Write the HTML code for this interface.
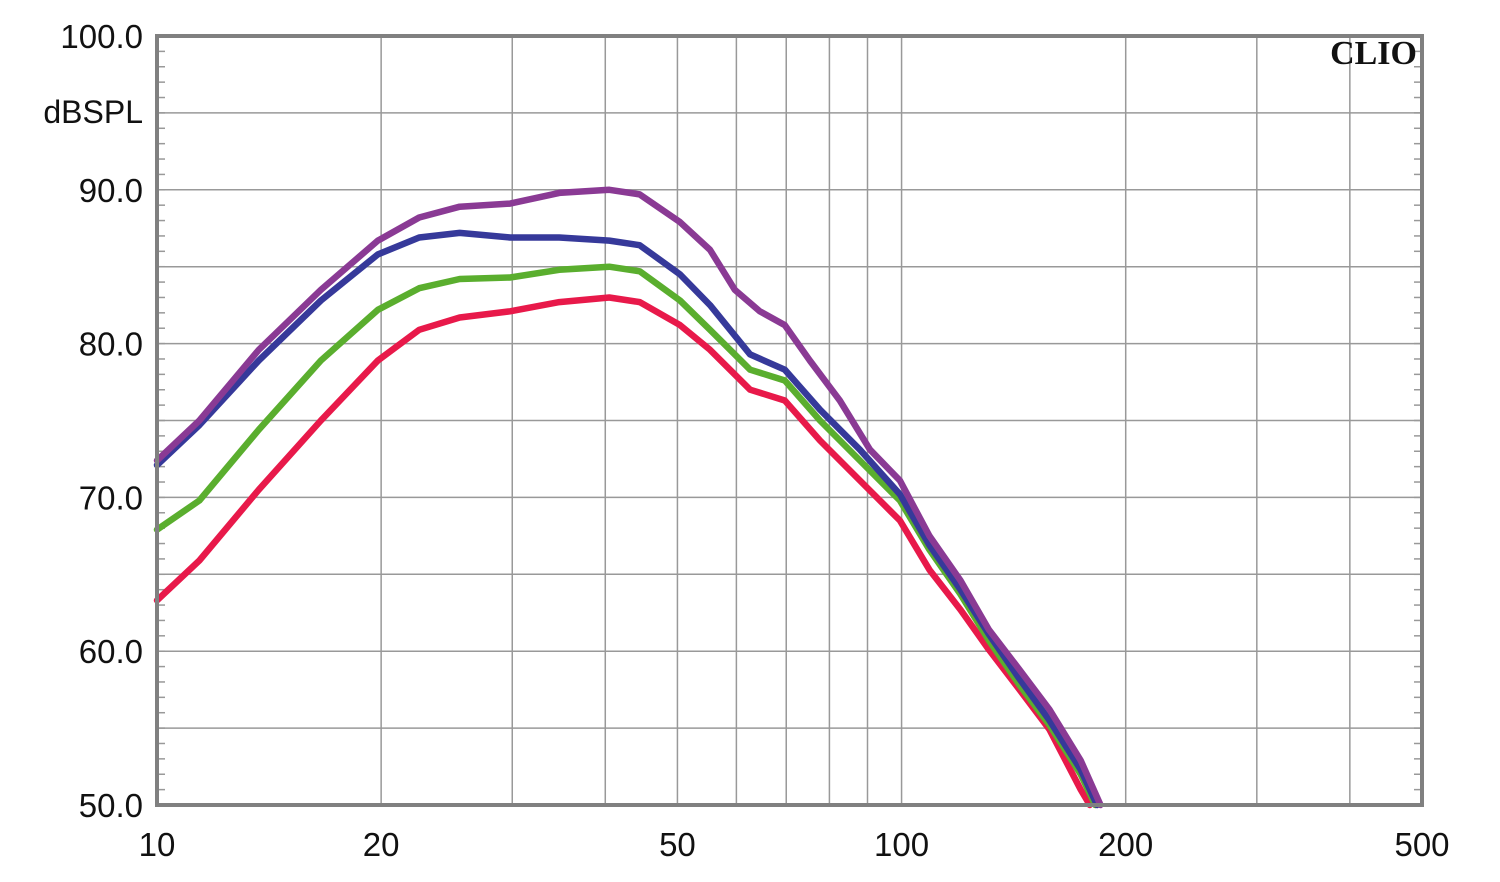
<!DOCTYPE html>
<html><head><meta charset="utf-8"><style>
body{margin:0;background:#fff;width:1500px;height:877px;overflow:hidden}
svg text{font-family:"Liberation Sans",sans-serif;fill:#111}
</style></head><body>
<svg id="chart" width="1500" height="877" viewBox="0 0 1500 877">
<g id="grid"></g>
<g id="ticks"></g>
<g id="series"></g>
<rect x="157" y="36" width="1265" height="769" fill="none" stroke="#808080" stroke-width="4"/>
<text x="1417" y="64" text-anchor="end" style="font-family:'Liberation Serif',serif;font-weight:bold;font-size:34px">CLIO</text>
<text x="143" y="123" text-anchor="end" font-size="32">dBSPL</text>
</svg>
<script>
const xTicks=[10,20,50,100,200,500];
const xGrid=[10,20,30,40,50,60,70,80,90,100,200,300,400,500];
const yTicks=[50,60,70,80,90,100];
const freqs=[10,11.4,13.7,16.6,19.8,22.5,25.5,29.8,34.7,40.5,44.5,50.4,55.3,62.6,69.7,77.7,87.9,99.5,109,120,131,144,158,174];
const purpleF=[10,11.4,13.7,16.6,19.8,22.5,25.5,29.8,34.7,40.5,44.5,50.4,55.3,59.7,64.5,69.7,75.3,82.6,90.7,99.5,109,120,131,144,158,174,185];
const purpleDb=[72.4,75.0,79.6,83.5,86.7,88.2,88.9,89.1,89.8,90.0,89.7,87.9,86.1,83.5,82.1,81.2,78.9,76.3,73.1,71.1,67.5,64.6,61.4,58.8,56.2,52.9,50.0];
const blueDb=[72.1,74.7,78.9,82.8,85.8,86.9,87.2,86.9,86.9,86.7,86.4,84.5,82.5,79.3,78.3,75.7,73.1,70.2,66.9,64.0,61.1,58.2,55.5,52.3];
const greenDb=[67.9,69.8,74.4,78.9,82.2,83.6,84.2,84.3,84.8,85.0,84.7,82.8,80.9,78.3,77.6,75.0,72.4,69.8,66.6,63.7,60.7,57.8,55.2,52.0];
const redDb=[63.3,65.9,70.5,75.0,78.9,80.9,81.7,82.1,82.7,83.0,82.7,81.2,79.6,77.0,76.3,73.7,71.1,68.5,65.3,62.7,60.1,57.5,54.9,51.0];
const endF={blue:183,green:182,red:179};
const X0=157,X1=1422,Y0=805,Y1=36;
const xs=f=>X0+(Math.log10(f)-1)/Math.log10(50)*(X1-X0);
const ys=d=>Y0-(d-50)/50*(Y0-Y1);
const NS="http://www.w3.org/2000/svg";
function mk(t,a,p){const e=document.createElementNS(NS,t);for(const k in a)e.setAttribute(k,a[k]);p.appendChild(e);return e;}
const grid=document.getElementById('grid'),ticks=document.getElementById('ticks'),ser=document.getElementById('series'),svg=document.getElementById('chart');
xGrid.forEach(f=>{const l=mk('line',{x1:xs(f),x2:xs(f),y1:Y1,y2:Y0,stroke:'#999','stroke-width':1.5},grid);

});
for(let d=55;d<100;d+=5){const l=mk('line',{x1:X0,x2:X1,y1:ys(d),y2:ys(d),stroke:'#999','stroke-width':1.5},grid);

}
for(let d=51;d<100;d++){const a=mk('line',{x1:X0,x2:X0+8,y1:ys(d),y2:ys(d),stroke:'#999','stroke-width':1.5},ticks);


const b=mk('line',{x1:X1-8,x2:X1,y1:ys(d),y2:ys(d),stroke:'#999','stroke-width':1.5},ticks);

}
xTicks.forEach(f=>{const t=mk('text',{x:xs(f),y:856,'text-anchor':'middle','font-size':33},svg);t.textContent=f;

});
yTicks.forEach(d=>{const t=mk('text',{x:143,y:ys(d)+12,'text-anchor':'end','font-size':33},svg);t.textContent=d.toFixed(1);

});
function line(F,D,c,n){const p=F.map((f,i)=>(i?'L':'M')+xs(f).toFixed(1)+','+ys(D[i]).toFixed(1)).join('');
const e=mk('path',{d:p,fill:'none',stroke:c,'stroke-width':6.5,'stroke-linejoin':'round','stroke-linecap':'round'},ser);

}
line(freqs.concat([endF.red]),redDb.concat([50]),'#e8194a','red-curve');
line(freqs.concat([endF.green]),greenDb.concat([50]),'#5aae2e','green-curve');
line(freqs.concat([endF.blue]),blueDb.concat([50]),'#36399a','blue-curve');
line(purpleF,purpleDb,'#8a3a94','purple-curve');
</script>
</body></html>
